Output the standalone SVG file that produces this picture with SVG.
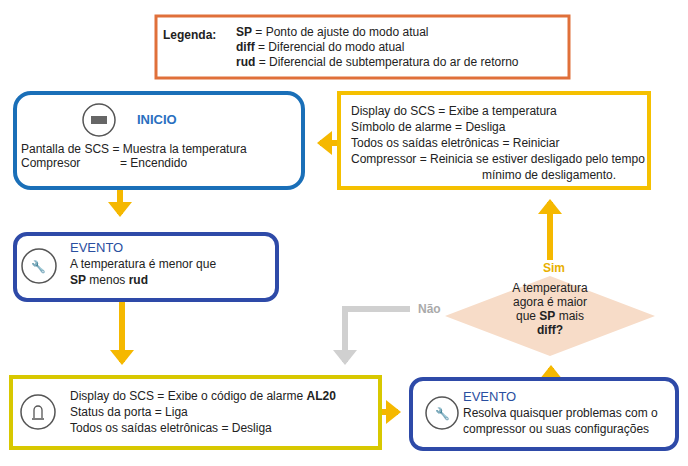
<svg xmlns="http://www.w3.org/2000/svg" width="688" height="466" viewBox="0 0 688 466">
<style>
text{font-family:"Liberation Sans",Arial,sans-serif;font-size:12px;fill:#222}
.b{font-weight:bold}
.t{fill:#2a4fa0;font-size:13px}
.ic{fill:#fff;stroke:#555;stroke-width:1.5}
.y{fill:none;stroke:#f5b800;stroke-width:6}
</style>
<defs>
<marker id="ay" markerWidth="4" markerHeight="4" refX="2" refY="2" orient="auto" markerUnits="strokeWidth"><path d="M0,0L2.5,2L0,4z" fill="#f5b800"/></marker>
<marker id="ag" markerWidth="4" markerHeight="4" refX="2" refY="2" orient="auto" markerUnits="strokeWidth"><path d="M0,0L2.5,2L0,4z" fill="#d0d0d0"/></marker>
</defs>
<rect width="688" height="466" fill="#fff"/>
<g id="legend">
<rect x="156" y="16" width="413" height="62" fill="#fff" stroke="#e0703a" stroke-width="3"/>
<text x="163" y="39" class="b" font-size="15">Legenda:</text>
<text x="236" y="36" font-size="12.5"><tspan class="b">SP</tspan>  = Ponto de ajuste do modo atual</text>
<text x="236" y="51" font-size="12.5"><tspan class="b">diff</tspan> = Diferencial do modo atual</text>
<text x="236" y="66" font-size="12.5"><tspan class="b">rud</tspan>  = Diferencial de subtemperatura do ar de retorno</text>
</g>
<g id="connectors">
<line x1="120" y1="190" x2="120" y2="214" class="y" marker-end="url(#ay)"/>
<line x1="122" y1="302" x2="122" y2="362" class="y" stroke="#e8c400" marker-end="url(#ay)"/>
<line x1="382" y1="412" x2="398" y2="412" class="y" marker-end="url(#ay)"/>
<line x1="551" y1="377" x2="551" y2="368" class="y" marker-end="url(#ay)"/>
<line x1="550" y1="260" x2="550" y2="202" class="y" marker-end="url(#ay)"/>
<line x1="337" y1="143" x2="320" y2="143" class="y" marker-end="url(#ay)"/>
<polyline points="410,309 345,309 345,362" fill="none" stroke="#d0d0d0" stroke-width="6" marker-end="url(#ag)"/>
<text x="418" y="313" style="fill:#aaa" class="b">Não</text>
<text x="543" y="272" style="fill:#e8b000" class="b">Sim</text>
</g>
<g id="inicio">
<rect x="15" y="93" width="288" height="95" rx="16" fill="#fff" stroke="#1a6fb8" stroke-width="4"/>
<circle cx="99" cy="120" r="16" class="ic"/>
<rect x="91" y="116" width="16" height="8" fill="#666"/>
<text x="137" y="124" class="t b" style="fill:#2a6fc0">INICIO</text>
<text x="21" y="153">Pantalla de SCS  = Muestra la temperatura</text>
<text x="21" y="167">Compresor</text><text x="120" y="167">= Encendido</text>
</g>
<g id="evento1">
<rect x="15" y="234" width="262" height="66" rx="12" fill="#fff" stroke="#2e4aa8" stroke-width="4"/>
<circle cx="39" cy="266" r="17" class="ic"/>
<text x="31" y="271">🔧</text>
<text x="70" y="252" class="t">EVENTO</text>
<text x="70" y="268">A temperatura é menor que</text>
<text x="70" y="284"><tspan class="b">SP</tspan> menos <tspan class="b">rud</tspan></text>
</g>
<g id="alarme">
<rect x="11" y="377" width="369" height="71" fill="#fff" stroke="#d8c800" stroke-width="4"/>
<circle cx="38" cy="412" r="17" class="ic"/>
<path d="M32,419h12M34,418v-8a4,4 0 0 1 8,0v8" fill="none" stroke="#555" stroke-width="1.3"/>
<text x="70" y="400">Display do SCS = Exibe o código de alarme <tspan class="b">AL20</tspan></text>
<text x="70" y="416">Status da porta = Liga</text>
<text x="70" y="432">Todos os saídas eletrônicas = Desliga</text>
</g>
<g id="evento2">
<rect x="411" y="379" width="266" height="70" rx="12" fill="#fff" stroke="#2e4aa8" stroke-width="4"/>
<circle cx="442" cy="413" r="16" class="ic"/>
<text x="435" y="418">🔧</text>
<text x="463" y="401" class="t">EVENTO</text>
<text x="463" y="417">Resolva quaisquer problemas com o</text>
<text x="463" y="433">compressor ou suas configurações</text>
</g>
<g id="decisao">
<polygon points="550,276 655,316 550,356 445,316" fill="#f7dcc8"/>
<text x="550" y="292" text-anchor="middle">A temperatura</text>
<text x="550" y="306" text-anchor="middle">agora é maior</text>
<text x="550" y="320" text-anchor="middle">que <tspan class="b">SP</tspan> mais</text>
<text x="550" y="334" text-anchor="middle" class="b">diff?</text>
</g>
<g id="reinicio">
<rect x="339" y="93" width="310" height="95" fill="#fff" stroke="#f5c000" stroke-width="4"/>
<text x="351" y="115">Display do SCS = Exibe a temperatura</text>
<text x="351" y="131">Símbolo de alarme = Desliga</text>
<text x="351" y="147">Todos os saídas eletrônicas = Reiniciar</text>
<text x="351" y="163">Compressor = Reinicia se estiver desligado pelo tempo</text>
<text x="482" y="179">mínimo de desligamento.</text>
</g>
</svg>
